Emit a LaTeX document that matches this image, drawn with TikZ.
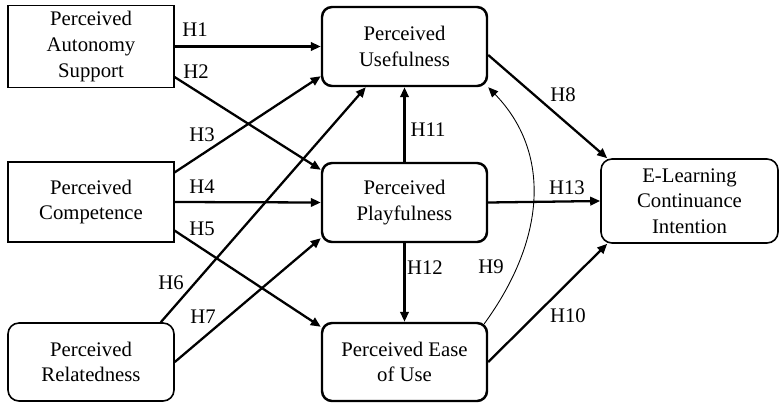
\documentclass[tikz,border=0pt]{standalone}
\usepackage{fontspec}
\setmainfont{Liberation Serif}
\usepackage{tikz}
\usetikzlibrary{shapes,arrows.meta,backgrounds}
\usetikzlibrary{positioning, shapes.geometric}
\tikzset{
  boxS/.style={ draw, line width=0.7pt, align=center, minimum width=3.32cm, minimum height=1.58cm }
}
\tikzset{
  boxR/.style={ boxS, rounded corners=0.22cm, line width=0.9pt }
}
\tikzset{
  boxT/.style={ boxS, rounded corners=0.2cm, line width=1.4pt, minimum width=3.3cm }
}
\tikzset{
  hyp/.style={ line width=1.3pt, -{Triangle[length=2mm, width=1.7mm]} }
}
\tikzset{
  hlab/.style={ inner sep=0pt }
}

\begin{document}
\begin{tikzpicture}[y=1cm, x=1cm, font=\fontsize{11.8}{14.6}\selectfont]
        \useasboundingbox (0, 0) rectangle (15.58, 8.04);
        \node[boxS] (aut) at (1.82, 7.11) {Perceived\\Autonomy\\Support};
        \node[boxS, minimum height=1.6cm] (com) at (1.82, 4.00) {Perceived\\Competence};
        \node[boxR, minimum height=1.56cm] (rel) at (1.82, 0.80) {Perceived\\Relatedness};
        \node[boxT] (use) at (8.09, 7.11) {Perceived\\Usefulness};
        \node[boxT] (ply) at (8.09, 3.99) {Perceived\\Playfulness};
        \node[boxT, minimum height=1.56cm] (eou) at (8.09, 0.80) {Perceived Ease\\of Use};
        \node[boxR, minimum width=3.54cm, minimum height=1.68cm] (eli) at (13.79, 4.02) {E-Learning\\Continuance\\Intention};
        \draw[hyp] (aut.east) -- (use.west);
        \draw[hyp] ([yshift=0.22cm]aut.south east) -- ([yshift=-0.16cm]ply.north west);
        \draw[hyp] ([yshift=-0.22cm]com.north east) -- ([yshift=0.22cm]use.south west);
        \draw[hyp] (com.east) -- (ply.west);
        \draw[hyp] ([yshift=0.24cm]com.south east) -- ([yshift=-0.1cm]eou.north west);
        \draw[hyp] ([xshift=-0.28cm]rel.north east) -- ([xshift=0.9cm]use.south west);
        \draw[hyp] (rel.east) -- ([yshift=0.1cm]ply.south west);
        \draw[hyp] ([yshift=-0.17cm]use.east) -- ([xshift=0.14cm]eli.north west);
        \draw[hyp, line width=0.5pt] ([xshift=-0.08cm, yshift=-0.04cm]eou.north east) .. controls +(1.24, 1.7) and +(1.26, -1.3) .. (use.south east);
        \draw[hyp] (eou.east) -- ([xshift=0.14cm]eli.south west);
        \draw[hyp] (ply.north) -- (use.south);
        \draw[hyp] (ply.south) -- (eou.north);
        \draw[hyp] (ply.east) -- (eli.west);
        \node[hlab] (h1) at (3.90, 7.44) {H1};
        \node[hlab] (h2) at (3.92, 6.60) {H2};
        \node[hlab] (h3) at (4.04, 5.34) {H3};
        \node[hlab] (h4) at (4.04, 4.30) {H4};
        \node[hlab] (h5) at (4.04, 3.46) {H5};
        \node[hlab] (h6) at (3.42, 2.38) {H6};
        \node[hlab] (h7) at (4.06, 1.70) {H7};
        \node[hlab] (h8) at (11.26, 6.14) {H8};
        \node[hlab] (h9) at (9.82, 2.70) {H9};
        \node[hlab] (h10) at (11.36, 1.72) {H10};
        \node[hlab] (h11) at (8.56, 5.44) {H11};
        \node[hlab] (h12) at (8.50, 2.68) {H12};
        \node[hlab] (h13) at (11.34, 4.28) {H13};
      \end{tikzpicture}
\end{document}
